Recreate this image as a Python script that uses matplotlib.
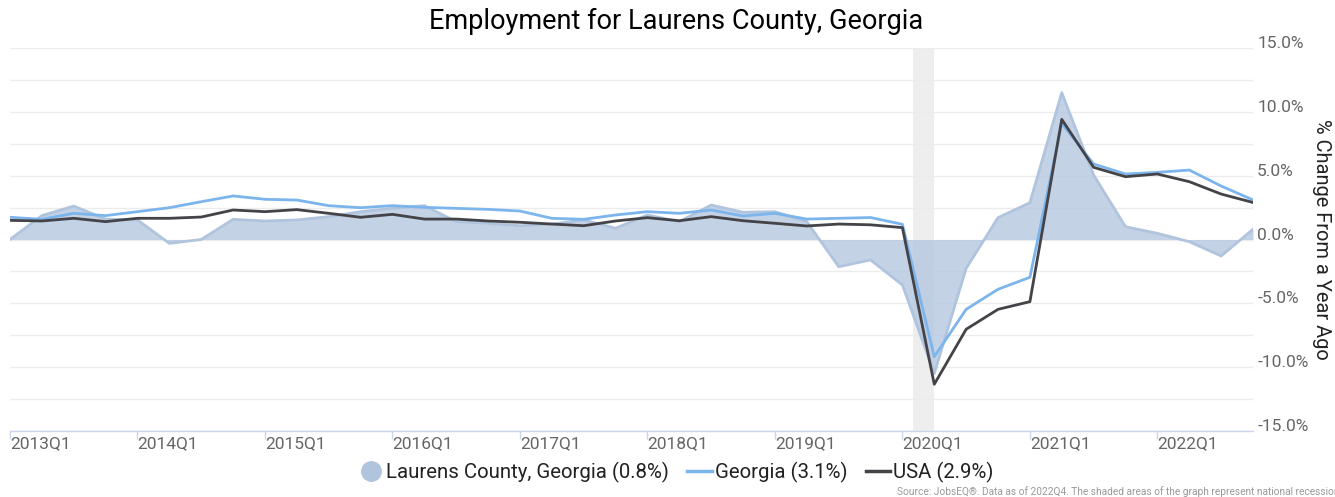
import numpy as np
import matplotlib
matplotlib.use("Agg")
import matplotlib.pyplot as plt
from matplotlib.lines import Line2D

plt.rcParams["font.family"] = ["Roboto", "DejaVu Sans"]

# dane: zmiana r/r zatrudnienia (%), 2013Q1 - 2022Q4
quarters = [f"{y}Q{q}" for y in range(2013, 2023) for q in range(1, 5)]

laurens = [0.0, 1.87, 2.62, 1.6, 1.53, -0.3, 0.0, 1.58, 1.45, 1.53,
           1.79, 2.18, 2.44, 2.65, 1.40, 1.27, 1.08, 1.21, 1.53, 0.88,
           1.92, 1.40, 2.70, 2.13, 2.18, 1.40, -2.13, -1.6, -3.56, -10.5,
           -2.26, 1.71, 2.88, 11.5, 5.05, 1.0, 0.48, -0.17, -1.29, 0.8]

georgia = [1.74, 1.58, 2.05, 1.87, 2.18, 2.49, 2.96, 3.41, 3.15, 3.09,
           2.65, 2.49, 2.65, 2.52, 2.44, 2.36, 2.23, 1.66, 1.58, 1.92,
           2.18, 2.05, 2.31, 1.84, 2.05, 1.6, 1.66, 1.72, 1.19, -9.18,
           -5.47, -3.90, -2.96, 9.10, 5.91, 5.13, 5.26, 5.44, 4.19, 3.1]

usa = [1.50, 1.45, 1.66, 1.40, 1.66, 1.66, 1.76, 2.31, 2.18, 2.34,
       2.05, 1.74, 1.97, 1.6, 1.6, 1.45, 1.35, 1.21, 1.08, 1.45,
       1.71, 1.47, 1.79, 1.47, 1.27, 1.06, 1.21, 1.15, 0.93, -11.34,
       -7.03, -5.47, -4.87, 9.41, 5.65, 4.92, 5.13, 4.53, 3.56, 2.9]

recession = (28.33, 29.0)  # luty - kwiecien 2020, w indeksach kwartalow

legend_labels = ["Laurens County, Georgia (0.8%)", "Georgia (3.1%)", "USA (2.9%)"]


def main():
    W, H = 1335, 497
    fig = plt.figure(figsize=(W / 100, H / 100), dpi=100)
    ax = fig.add_axes([10 / W, 1 - 431 / H, (1253 - 10) / W, (431 - 48) / H])

    x = np.arange(len(quarters))

    ax.axvspan(*recession, color="#eeeeee", zorder=0, lw=0)

    ax.fill_between(x, laurens, 0, color="#b0c4de", alpha=0.75, lw=0, zorder=2)
    ax.plot(x, laurens, color="#b0c4de", lw=2, zorder=2)
    ax.plot(x, georgia, color="#7cb5ec", lw=2, zorder=3, solid_joinstyle="round")
    ax.plot(x, usa, color="#434348", lw=2, zorder=4, solid_joinstyle="round")

    ax.set_xlim(0, len(quarters) - 1)
    ax.set_ylim(-15, 15)

    ax.yaxis.tick_right()
    yt = np.arange(-15, 15.1, 5)
    ax.set_yticks(yt)
    ax.set_yticks(np.arange(-12.5, 15, 5), minor=True)
    ax.grid(axis="y", which="both", color="#ececec", lw=1, zorder=1)
    ax.set_yticklabels([f"{v:.1f}%" for v in yt])
    ax.tick_params(axis="y", which="both", length=0, pad=3, labelsize=12.5,
                   labelcolor="#666666")
    for lab in ax.get_yticklabels():
        lab.set_verticalalignment("baseline")

    xt = x[::4]
    ax.set_xticks(xt)
    ax.set_xticklabels([quarters[i] for i in xt])
    ax.tick_params(axis="x", length=6, width=1, color="#ccd6eb", pad=-2,
                   labelsize=12.5, labelcolor="#666666")
    for lab in ax.get_xticklabels():
        lab.set_horizontalalignment("left")

    for side in ["top", "left", "right"]:
        ax.spines[side].set_visible(False)
    ax.spines["bottom"].set_color("#ccd6eb")
    ax.spines["bottom"].set_linewidth(1)
    ax.spines["bottom"].set_zorder(5)

    fig.text(676 / W, 1 - 21 / H, "Employment for Laurens County, Georgia",
             ha="center", va="center", fontsize=19.5, color="#000000")
    fig.text(1322 / W, 1 - 239 / H, "% Change From a Year Ago", rotation=270,
             ha="center", va="center", fontsize=14.4, color="#222222")

    handles = [
        Line2D([], [], marker="o", ls="none", color="#b0c4de", markersize=14),
        Line2D([], [], color="#7cb5ec", lw=2.5),
        Line2D([], [], color="#434348", lw=2.5),
    ]
    fig.legend(handles, legend_labels, loc="center", ncol=3,
               bbox_to_anchor=(676 / W, 1 - 472 / H), frameon=False,
               fontsize=14.7, handlelength=1.2, handletextpad=0.15,
               columnspacing=0.9, labelcolor="#222222")

    # w oryginale przypis jest uciety na prawej krawedzi
    fig.text(897 / W, 1 - 492 / H,
             "Source: JobsEQ®. Data as of 2022Q4. The shaded areas of the graph "
             "represent national recessions.",
             ha="left", va="center", fontsize=7.3, color="#999999")

    fig.savefig("out.png", dpi=100)


if __name__ == "__main__":
    main()
